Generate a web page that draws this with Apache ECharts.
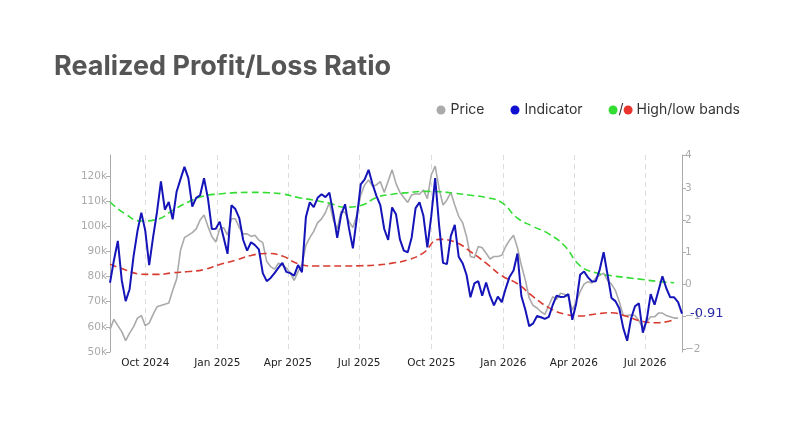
<!DOCTYPE html>
<html>
<head>
<meta charset="utf-8">
<title>Realized Profit/Loss Ratio</title>
<script src="https://cdn.jsdelivr.net/npm/echarts@6/dist/echarts.min.js"></script>
<style>
html, body { margin: 0; padding: 0; background: #fff; }
#chart { width: 800px; height: 433px; }
</style>
</head>
<body>
<div id="chart"></div>
<script>
// price and indicator are sampled every 5 days, bands every 20 days, from 17 Aug 2024
var startDate = new Date(2024, 7, 17);
var stepDays = 5;
var bandStepDays = 20;
var spanDays = 730;

// price in thousands (left axis)
var priceK = [
	59.0, 63.0, 60.5, 58.1, 54.5, 57.5, 60.0, 63.5, 64.5, 60.5,
	61.5, 65.0, 68.0, 68.5, 69.0, 69.5, 74.5, 79.0, 90.5, 95.5,
	96.5, 97.5, 99.0, 102.5, 104.5, 100.0, 96.0, 93.8, 99.0, 99.5,
	96.5, 103.0, 103.0, 99.5, 97.0, 97.0, 96.0, 96.5, 94.5, 93.5,
	86.0, 84.0, 83.0, 85.3, 84.5, 83.5, 81.5, 78.5, 82.0, 84.7,
	92.5, 95.5, 98.0, 101.5, 103.0, 105.5, 109.5, 102.5, 99.0, 106.0,
	105.5, 102.0, 99.5, 104.5, 112.5, 116.5, 118.5, 116.0, 116.5, 117.8,
	113.5, 118.0, 122.5, 117.0, 113.5, 111.5, 109.5, 112.5, 113.0, 112.8,
	114.5, 111.0, 120.5, 124.0, 115.0, 108.5, 110.5, 113.5, 108.5, 104.0,
	101.5, 96.0, 88.0, 87.5, 92.0, 91.5, 89.3, 87.0, 88.0, 88.0,
	88.5, 92.0, 94.5, 96.5, 91.5, 84.5, 78.7, 71.5, 68.5, 67.5,
	66.0, 65.0, 68.5, 72.0, 71.0, 73.4, 73.0, 72.0, 66.7, 70.0,
	74.0, 77.0, 78.0, 77.5, 79.5, 80.5, 81.4, 78.5, 77.0, 74.5,
	70.0, 64.5, 64.5, 64.8, 64.5, 62.5, 59.5, 62.0, 64.0, 64.0,
	65.5, 65.5, 64.5, 64.0, 63.5, 63.5
];

// indicator (right axis)
var indicator = [
	0.05, 0.75, 1.35, 0.13, -0.52, -0.15, 0.86, 1.65, 2.23, 1.67,
	0.60, 1.47, 2.25, 3.20, 2.32, 2.56, 2.02, 2.88, 3.27, 3.65,
	3.30, 2.42, 2.69, 2.77, 3.30, 2.67, 1.72, 1.73, 1.95, 1.46,
	0.95, 2.46, 2.34, 2.06, 1.38, 1.05, 1.31, 1.22, 1.09, 0.35,
	0.10, 0.20, 0.35, 0.52, 0.67, 0.39, 0.35, 0.27, 0.60, 0.38,
	2.09, 2.55, 2.40, 2.69, 2.80, 2.71, 2.85, 2.20, 1.45, 2.17,
	2.49, 1.74, 1.12, 2.07, 3.11, 3.26, 3.56, 3.12, 2.75, 2.46,
	1.72, 1.38, 2.39, 2.18, 1.40, 1.05, 1.00, 1.46, 2.37, 2.55,
	2.13, 1.15, 2.12, 3.30, 1.84, 0.67, 0.63, 1.51, 1.85, 0.86,
	0.66, 0.30, -0.40, 0.03, 0.10, -0.35, 0.06, -0.35, -0.65, -0.38,
	-0.55, -0.13, 0.24, 0.43, 0.96, -0.36, -0.78, -1.30, -1.21, -0.98,
	-1.02, -1.07, -1.01, -0.64, -0.35, -0.39, -0.38, -0.30, -1.10, -0.59,
	0.30, 0.40, 0.22, 0.09, 0.10, 0.46, 1.00, 0.30, -0.42, -0.52,
	-0.75, -1.35, -1.75, -1.06, -0.68, -0.59, -1.50, -1.10, -0.30, -0.63,
	-0.19, 0.25, -0.12, -0.40, -0.40, -0.55, -0.91
];

var highBand = [
	2.56, 2.18, 1.97, 2.02, 2.30, 2.56, 2.75, 2.81, 2.85, 2.86,
	2.85, 2.81, 2.70, 2.62, 2.52, 2.40, 2.45, 2.70, 2.80, 2.85,
	2.89, 2.88, 2.83, 2.77, 2.70, 2.54, 2.06, 1.80, 1.57, 1.20,
	0.58, 0.36, 0.27, 0.21, 0.15, 0.09, 0.05
];

var lowBand = [
	0.63, 0.45, 0.32, 0.31, 0.36, 0.40, 0.46, 0.62, 0.75, 0.90,
	0.96, 0.88, 0.64, 0.57, 0.57, 0.57, 0.58, 0.60, 0.66, 0.76,
	0.98, 1.40, 1.32, 1.02, 0.66, 0.27, 0.02, -0.38, -0.72, -0.92,
	-0.98, -0.92, -0.88, -1.00, -1.15, -1.19, -1.09
];

// quarter ticks [year, monthIndex]
var quarterTicks = [[2024, 9], [2025, 0], [2025, 3], [2025, 6], [2025, 9], [2026, 0], [2026, 3], [2026, 6]];
var monthNames = ['Jan', 'Feb', 'Mar', 'Apr', 'May', 'Jun', 'Jul', 'Aug', 'Sep', 'Oct', 'Nov', 'Dec'];
var leftTicks = [50, 60, 70, 80, 90, 100, 110, 120];
var rightTicks = [-2, -1, 0, 1, 2, 3, 4];

function pairs(values, step) {
	var out = [];
	for (var i = 0; i < values.length; i++) {
		out.push([i * step, values[i]]);
	}
	return out;
}

// x axis is in days since startDate
var tickDays = quarterTicks.map(function(q) {
	return Math.round((new Date(q[0], q[1], 1).getTime() - startDate.getTime()) / 86400000);
});

function dayLabel(days) {
	var d = new Date(startDate.getTime() + days * 86400000 + 43200000);
	return monthNames[d.getMonth()] + ' ' + d.getFullYear();
}

var chart = echarts.init(document.getElementById('chart'));

var option = {
	animation: false,
	backgroundColor: '#fff',
	title: {
		text: 'Realized Profit/Loss Ratio',
		left: 54,
		top: 53,
		padding: 0,
		textStyle: {
			fontFamily: 'Inter',
			fontWeight: 700,
			fontSize: 27,
			color: '#555'
		}
	},
	legend: {
		left: 436.5,
		top: 103,
		padding: 0,
		itemWidth: 9,
		itemHeight: 9,
		itemGap: 26,
		icon: 'circle',
		itemStyle: { borderWidth: 0 },
		textStyle: {
			fontFamily: 'Inter',
			fontSize: 14,
			color: '#333',
			rich: {
				sl: { fontFamily: 'Inter', fontSize: 14, color: '#333', padding: [0, 0, 0, -4] },
				r: { width: 9, height: 9, borderRadius: 4.5, backgroundColor: '#e8352e' },
				t: { fontFamily: 'Inter', fontSize: 14, color: '#333' }
			}
		},
		data: ['Price', 'Indicator', 'High/low bands'],
		formatter: function(name) {
			if (name === 'High/low bands') {
				return '{sl|/}{r| }{t| High/low bands}';
			}
			return name;
		}
	},
	grid: {
		left: 110,
		right: 118,
		top: 155,
		bottom: 81
	},
	xAxis: {
		type: 'value',
		min: 0,
		max: spanDays,
		axisLine: { show: false },
		axisTick: { show: false, customValues: tickDays },
		axisLabel: {
			customValues: tickDays,
			margin: 6,
			fontFamily: 'DejaVu Sans',
			fontSize: 10.5,
			color: '#222',
			formatter: function(value) {
				return dayLabel(value);
			}
		},
		splitLine: {
			show: true,
			lineStyle: { color: '#dcdcdc', type: [5, 4], width: 1 }
		}
	},
	yAxis: [{
		type: 'value',
		position: 'left',
		min: 50,
		max: 128.4,
		axisLine: { show: true, lineStyle: { color: '#aaa' } },
		axisTick: { show: true, length: 4, customValues: leftTicks, lineStyle: { color: '#aaa' } },
		axisLabel: {
			customValues: leftTicks,
			margin: 3,
			fontFamily: 'DejaVu Sans',
			fontSize: 10.5,
			color: '#aaa',
			formatter: '{value}k'
		},
		splitLine: { show: false }
	}, {
		type: 'value',
		position: 'right',
		min: -2.1,
		max: 4.02,
		axisLine: { show: true, lineStyle: { color: '#aaa' } },
		axisTick: { show: true, length: 4, customValues: rightTicks, lineStyle: { color: '#aaa' } },
		axisLabel: {
			customValues: rightTicks,
			margin: 3,
			fontFamily: 'DejaVu Sans',
			fontSize: 10.5,
			color: '#aaa',
			formatter: function(v) {
				return v < 0 ? '\u2212' + Math.abs(v) : String(v);
			}
		},
		splitLine: { show: false }
	}],
	series: [{
		name: 'Price',
		type: 'line',
		yAxisIndex: 0,
		data: pairs(priceK, stepDays),
		showSymbol: false,
		color: '#aaaaaa',
		lineStyle: { width: 1.6, color: '#aaaaaa' },
		z: 2
	}, {
		name: 'High/low bands',
		type: 'line',
		yAxisIndex: 1,
		data: pairs(highBand, bandStepDays),
		showSymbol: false,
		smooth: true,
		color: '#33dd33',
		lineStyle: { width: 1.6, color: '#33dd33', type: [7, 4] },
		z: 3
	}, {
		name: 'High/low bands',
		type: 'line',
		yAxisIndex: 1,
		data: pairs(lowBand, bandStepDays),
		showSymbol: false,
		smooth: true,
		color: '#e8352e',
		lineStyle: { width: 1.6, color: '#d83a30', type: [7, 4] },
		z: 3
	}, {
		name: 'Indicator',
		type: 'line',
		yAxisIndex: 1,
		data: pairs(indicator, stepDays),
		showSymbol: false,
		color: '#1010d0',
		lineStyle: { width: 2, color: '#1414b8' },
		endLabel: {
			show: true,
			distance: 8,
			fontFamily: 'DejaVu Sans',
			fontSize: 13,
			color: '#2a2aa8',
			formatter: function(p) {
				return p.value[1].toFixed(2);
			}
		},
		z: 4
	}]
};

chart.setOption(option);
</script>
</body>
</html>
